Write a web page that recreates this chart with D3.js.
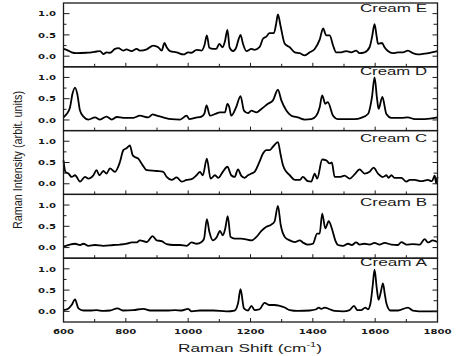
<!DOCTYPE html>
<html><head><meta charset="utf-8">
<script src="https://cdn.jsdelivr.net/npm/d3@7"></script>
<style>html,body{margin:0;padding:0;background:#fff;}svg{display:block;}</style>
</head><body>
<svg id="chart" width="457" height="356"></svg>
<script>
// ---- data: [Raman shift (cm-1), intensity] ----
const panelNames = ["Cream E", "Cream D", "Cream C", "Cream B", "Cream A"];
const creamE = [[600,0.17],[610,0.15],[626,0.09],[642,0.07],[674,0.08],[690,0.09],[706,0.11],[717,0.12],[728,0.05],[738,0.09],[749,0.08],[765,0.17],[776,0.19],[792,0.13],[802,0.16],[818,0.12],[835,0.17],[845,0.13],[867,0.16],[888,0.25],[904,0.21],[915,0.13],[924,0.31],[931,0.21],[942,0.12],[963,0.09],[985,0.04],[1000,0.09],[1011,0.08],[1027,0.15],[1043,0.13],[1052,0.25],[1060,0.49],[1068,0.2],[1080,0.17],[1090,0.17],[1100,0.29],[1110,0.21],[1118,0.35],[1126,0.62],[1133,0.2],[1144,0.12],[1154,0.2],[1162,0.4],[1168,0.5],[1176,0.29],[1187,0.12],[1203,0.17],[1213,0.15],[1229,0.21],[1240,0.41],[1251,0.46],[1261,0.54],[1275,0.54],[1282,0.75],[1288,0.98],[1297,0.69],[1310,0.29],[1326,0.21],[1342,0.09],[1358,0.07],[1374,0.02],[1390,0.09],[1406,0.17],[1422,0.39],[1433,0.65],[1443,0.49],[1454,0.49],[1465,0.25],[1475,0.09],[1491,0.09],[1507,0.12],[1523,0.09],[1539,0.13],[1550,0.07],[1566,0.09],[1582,0.21],[1590,0.45],[1598,0.75],[1605,0.45],[1609,0.29],[1622,0.31],[1630,0.21],[1641,0.12],[1657,0.07],[1673,0.09],[1689,0.09],[1705,0.13],[1721,0.07],[1737,0.04],[1759,0.06],[1775,0.08],[1800,0.12]];
const creamD = [[600,0.06],[610,0.14],[621,0.3],[629,0.62],[637,0.76],[644,0.62],[653,0.22],[664,0.08],[680,0.01],[701,0.06],[717,0.01],[738,0.08],[755,0.01],[771,0.07],[792,0.05],[824,0.05],[845,0.1],[872,0.06],[886,0.13],[899,0.1],[920,0.06],[947,0.02],[974,0.01],[995,0.1],[1004,0.02],[1022,0.05],[1043,0.08],[1052,0.15],[1059,0.34],[1070,0.1],[1086,0.14],[1102,0.18],[1118,0.18],[1126,0.38],[1132,0.3],[1138,0.1],[1154,0.3],[1168,0.56],[1179,0.22],[1192,0.16],[1203,0.22],[1219,0.18],[1235,0.26],[1256,0.38],[1272,0.46],[1288,0.71],[1299,0.46],[1315,0.22],[1331,0.1],[1352,0.06],[1374,0.01],[1395,0.02],[1411,0.1],[1422,0.3],[1430,0.58],[1440,0.38],[1448,0.42],[1465,0.1],[1481,0.02],[1507,0.02],[1534,0.02],[1555,0.05],[1577,0.14],[1590,0.55],[1598,1.0],[1606,0.5],[1611,0.26],[1623,0.54],[1636,0.14],[1652,0.05],[1684,0.05],[1705,0.06],[1727,0.02],[1759,0.02],[1800,0.06]];
const creamC = [[600,0.55],[606,0.28],[616,0.24],[626,0.16],[637,0.2],[653,0.05],[669,0.16],[680,0.12],[696,0.2],[706,0.32],[715,0.2],[728,0.3],[738,0.24],[749,0.36],[765,0.28],[781,0.51],[792,0.79],[803,0.84],[813,0.9],[822,0.67],[829,0.63],[840,0.59],[851,0.47],[867,0.32],[899,0.3],[920,0.28],[931,0.16],[947,0.09],[963,0.15],[979,0.05],[995,0.09],[1011,0.11],[1027,0.2],[1038,0.28],[1047,0.2],[1060,0.59],[1072,0.12],[1086,0.2],[1097,0.14],[1111,0.28],[1126,0.4],[1138,0.2],[1149,0.16],[1160,0.34],[1170,0.19],[1181,0.14],[1192,0.2],[1203,0.24],[1213,0.28],[1229,0.52],[1240,0.71],[1251,0.79],[1261,0.79],[1272,0.87],[1288,0.98],[1297,0.67],[1304,0.44],[1315,0.28],[1326,0.2],[1342,0.09],[1358,0.09],[1368,0.16],[1384,0.06],[1395,0.05],[1406,0.24],[1414,0.12],[1430,0.57],[1443,0.55],[1454,0.48],[1461,0.5],[1470,0.16],[1486,0.16],[1502,0.19],[1518,0.12],[1534,0.22],[1550,0.34],[1566,0.24],[1582,0.28],[1595,0.38],[1609,0.24],[1625,0.16],[1636,0.2],[1643,0.14],[1652,0.2],[1662,0.14],[1684,0.14],[1700,0.05],[1711,0.09],[1727,0.09],[1748,0.06],[1769,0.09],[1782,0.06],[1791,0.19],[1796,0.01],[1800,0.16]];
const creamB = [[600,0.02],[621,0.07],[637,0.09],[653,0.06],[664,0.09],[680,0.04],[701,0.06],[728,0.04],[760,0.06],[781,0.07],[803,0.09],[819,0.12],[835,0.12],[845,0.17],[867,0.13],[886,0.27],[899,0.17],[915,0.15],[931,0.08],[952,0.06],[974,0.06],[995,0.04],[1011,0.12],[1027,0.09],[1043,0.13],[1051,0.21],[1060,0.67],[1068,0.37],[1079,0.17],[1092,0.25],[1102,0.39],[1111,0.29],[1119,0.45],[1127,0.74],[1136,0.25],[1149,0.21],[1170,0.21],[1187,0.19],[1203,0.17],[1219,0.25],[1235,0.39],[1251,0.49],[1267,0.54],[1277,0.61],[1288,0.98],[1297,0.53],[1310,0.25],[1326,0.17],[1342,0.13],[1358,0.17],[1368,0.12],[1384,0.07],[1400,0.09],[1414,0.33],[1422,0.33],[1430,0.8],[1440,0.45],[1451,0.62],[1461,0.45],[1472,0.17],[1481,0.06],[1497,0.04],[1513,0.09],[1525,0.06],[1539,0.12],[1550,0.07],[1566,0.09],[1582,0.07],[1598,0.11],[1614,0.07],[1630,0.11],[1652,0.07],[1673,0.06],[1684,0.13],[1700,0.07],[1721,0.08],[1743,0.07],[1759,0.2],[1769,0.12],[1785,0.17],[1800,0.13]];
const creamA = [[600,0.03],[616,0.07],[626,0.15],[637,0.28],[648,0.07],[664,0.02],[685,0.02],[706,0.03],[728,0.01],[749,0.02],[773,0.07],[792,0.02],[824,0.03],[856,0.06],[878,0.02],[910,0.02],[931,0.02],[958,0.03],[979,0.02],[1000,0.06],[1011,0.0],[1038,0.02],[1081,0.02],[1123,0.0],[1149,0.02],[1160,0.19],[1168,0.52],[1179,0.07],[1192,0.02],[1203,0.13],[1213,0.03],[1229,0.05],[1245,0.2],[1261,0.15],[1277,0.15],[1293,0.13],[1310,0.09],[1326,0.03],[1352,0.01],[1390,0.02],[1411,0.05],[1419,0.09],[1427,0.06],[1438,0.09],[1454,0.05],[1470,0.01],[1497,0.0],[1518,0.03],[1532,0.13],[1543,0.03],[1555,0.03],[1568,0.09],[1577,0.05],[1585,0.19],[1592,0.6],[1598,0.98],[1605,0.55],[1611,0.27],[1618,0.45],[1625,0.66],[1631,0.4],[1636,0.19],[1649,0.02],[1673,0.02],[1705,0.09],[1721,0.02],[1759,0.0],[1800,0.0]];
const seriesList = [creamE, creamD, creamC, creamB, creamA];
const xMajorTicks = [600, 800, 1000, 1200, 1400, 1600, 1800];
const xMinorTicks = [700, 900, 1100, 1300, 1500, 1700];
const yMajorTicks = [0.0, 0.5, 1.0];
const yMinorTicks = [0.25, 0.75];
const xTitle = "Raman Shift (cm";
const yTitle = "Raman Intensity (arbit. units)";

// ---- layout ----
const svg = d3.select("#chart");
const L = 63.5, R = 437.5, T = 3, B = 322;
const panelH = (B - T) / panelNames.length;
const labelDy = [9, 8.5, 11.7, 11.6, 7.8];
const x = d3.scaleLinear().domain([600, 1800]).range([L, R]);
const ink = "#1a1a1a";
const tickFont = "'DejaVu Sans', Verdana, sans-serif";

const line = d3.line().curve(d3.curveMonotoneX);

panelNames.forEach((name, i) => {
  const top = T + i * panelH, bot = top + panelH;
  const y = d3.scaleLinear().domain([-0.25, 1.25]).range([bot, top]);
  const g = svg.append("g");

  // spectrum
  g.append("path")
    .attr("d", line.x(d => x(d[0])).y(d => y(d[1]))(seriesList[i]))
    .attr("fill", "none").attr("stroke", "#000")
    .attr("stroke-width", 1.8).attr("stroke-linejoin", "round");

  // ticks (inward)
  const tk = (x1, y1, x2, y2) => g.append("line")
    .attr("x1", x1).attr("y1", y1).attr("x2", x2).attr("y2", y2)
    .attr("stroke", ink).attr("stroke-width", 1);
  yMajorTicks.forEach(v => { tk(L, y(v), L + 6, y(v)); tk(R, y(v), R - 5, y(v)); });
  yMinorTicks.forEach(v => { tk(L, y(v), L + 3, y(v)); tk(R, y(v), R - 4, y(v)); });
  xMajorTicks.forEach(v => tk(x(v), bot, x(v), bot - 4));
  xMinorTicks.forEach(v => tk(x(v), bot, x(v), bot - 3));

  // frame
  g.append("rect").attr("x", L).attr("y", top).attr("width", R - L).attr("height", panelH)
    .attr("fill", "none").attr("stroke", ink).attr("stroke-width", 1.3);

  // y tick labels
  yMajorTicks.forEach(v => {
    g.append("text")
      .attr("transform", `translate(56,${y(v) + 2.7}) scale(1.35,1)`)
      .attr("text-anchor", "end").attr("font-family", tickFont)
      .attr("font-weight", "bold").attr("font-size", 7.5).attr("fill", ink)
      .text(v.toFixed(1));
  });

  // panel label
  g.append("text")
    .attr("x", 360).attr("y", top + labelDy[i])
    .attr("font-family", "'Liberation Sans', Arial, sans-serif")
    .attr("font-size", 10.5).attr("fill", ink)
    .attr("textLength", 67).attr("lengthAdjust", "spacingAndGlyphs")
    .text(name);

  // x tick labels only on bottom panel
  if (i === panelNames.length - 1) {
    xMajorTicks.forEach(v => {
      g.append("text")
        .attr("transform", `translate(${x(v)},333.8) scale(1.35,1)`)
        .attr("text-anchor", "middle").attr("font-family", tickFont)
        .attr("font-weight", "bold").attr("font-size", 7.5).attr("fill", ink)
        .text(v);
    });
  }
});

// axis titles
const xt = svg.append("text")
  .attr("x", 178).attr("y", 351.5)
  .attr("font-family", "'Liberation Sans', Arial, sans-serif")
  .attr("font-size", 11).attr("fill", ink)
  .attr("textLength", 144).attr("lengthAdjust", "spacingAndGlyphs");
xt.append("tspan").text(xTitle);
xt.append("tspan").attr("font-size", 7).attr("dy", -4.5).text("-1");
xt.append("tspan").attr("dy", 4.5).text(")");

svg.append("text")
  .attr("transform", "translate(21.5,160) rotate(-90)")
  .attr("text-anchor", "middle")
  .attr("font-family", "'Liberation Sans Narrow', 'Liberation Sans', Arial, sans-serif")
  .attr("font-size", 13.5).attr("fill", ink)
  .attr("textLength", 138).attr("lengthAdjust", "spacingAndGlyphs")
  .text(yTitle);
</script>
</body></html>
